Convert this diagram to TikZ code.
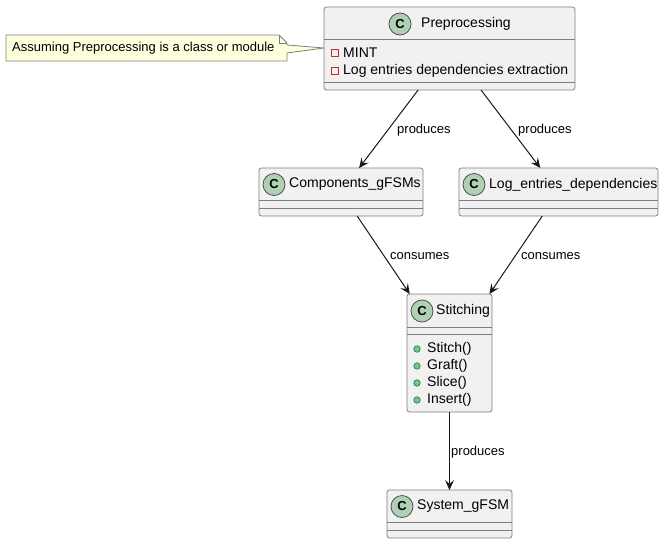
\documentclass[tikz,border=0pt]{standalone}
\usepackage{fontspec}
\setmainfont{Liberation Sans}
\usetikzlibrary{arrows.meta}
\definecolor{boxfill}{HTML}{F1F1F1}
\definecolor{ink}{HTML}{181818}
\definecolor{boxline}{HTML}{7E7E7E}
\definecolor{cline}{HTML}{505050}
\definecolor{cgreen}{HTML}{ADD1B2}
\definecolor{notefill}{HTML}{FEFFDD}
\definecolor{privred}{HTML}{C82930}
\definecolor{pubfill}{HTML}{84BE84}
\definecolor{publine}{HTML}{038048}
\tikzset{
  classbox/.style={draw=boxline, line width=0.8pt, fill=boxfill, rounded corners=2.5pt, inner sep=0pt, outer sep=0pt, anchor=north west},
  divider/.style={draw=boxline, line width=0.8pt},
  cicon/.style={circle, draw=cline, line width=0.8pt, fill=cgreen, minimum size=22pt, inner sep=0pt, font=\fontsize{13}{13}\selectfont\bfseries},
  cname/.style={anchor=west, inner sep=0pt, font=\fontsize{14}{16}\selectfont},
  member/.style={anchor=west, inner sep=0pt, font=\fontsize{14}{16}\selectfont},
  lbl/.style={anchor=west, inner sep=0pt, font=\fontsize{13}{15}\selectfont},
  privicon/.style={draw=privred, line width=0.8pt, rectangle, minimum size=6.5pt, inner sep=0pt},
  pubicon/.style={draw=publine, line width=0.6pt, fill=pubfill, circle, minimum size=6.5pt, inner sep=0pt},
  arr/.style={draw=ink, line width=1pt, -{Stealth[length=10pt,width=9pt,inset=4pt]}},
}
\begin{document}
\begin{tikzpicture}[x=1pt,y=-1pt]
\useasboundingbox (0,0) rectangle (664,544);

% Note
\draw[draw=boxline, line width=0.8pt, fill=notefill]
  (6,35) -- (279,35) -- (287,43) -- (287,45) -- (324,48) -- (287,53) -- (287,61) -- (6,61) -- cycle;
\draw[draw=boxline, line width=0.8pt] (279,35) -- (279,43) -- (287,43);
\node[lbl] (notetext) at (12,48.5) {Assuming Preprocessing is a class or module};

% Preprocessing
\node[classbox, minimum width=251pt, minimum height=83pt] (pre) at (324,7) {};
\draw[divider] (324,39) -- (575,39);
\draw[divider] (324,82) -- (575,82);
\node[cicon] (preC) at (400,24) {C};
\node[cname] (preN) at (421,24) {Preprocessing};
\node[privicon] (preI1) at (335,53) {};
\node[member] (preA1) at (343,53) {MINT};
\node[privicon] (preI2) at (335,71) {};
\node[member] (preA2) at (343,71) {Log entries dependencies extraction};

% Components_gFSMs
\node[classbox, minimum width=164pt, minimum height=48pt] (comp) at (259,168) {};
\draw[divider] (259,200.5) -- (423,200.5);
\draw[divider] (259,208) -- (423,208);
\node[cicon] (compC) at (274,184.5) {C};
\node[cname] (compN) at (289,184.5) {Components\_gFSMs};

% Log_entries_dependencies
\node[classbox, minimum width=199pt, minimum height=48pt] (log) at (459,168) {};
\draw[divider] (459,200.5) -- (658,200.5);
\draw[divider] (459,208) -- (658,208);
\node[cicon] (logC) at (474,184.5) {C};
\node[cname] (logN) at (489,184.5) {Log\_entries\_dependencies};

% Stitching
\node[classbox, minimum width=85pt, minimum height=118pt] (sti) at (407,294) {};
\draw[divider] (407,327) -- (492,327);
\draw[divider] (407,334) -- (492,334);
\node[cicon] (stiC) at (422,311) {C};
\node[cname] (stiN) at (436,311) {Stitching};
\node[pubicon] (stiI1) at (417,349) {};
\node[member] (stiM1) at (427,349) {Stitch()};
\node[pubicon] (stiI2) at (417,366) {};
\node[member] (stiM2) at (427,366) {Graft()};
\node[pubicon] (stiI3) at (417,383) {};
\node[member] (stiM3) at (427,383) {Slice()};
\node[pubicon] (stiI4) at (417,400) {};
\node[member] (stiM4) at (427,400) {Insert()};

% System_gFSM
\node[classbox, minimum width=125pt, minimum height=48pt] (sys) at (387,490) {};
\draw[divider] (387,522) -- (512,522);
\draw[divider] (387,530) -- (512,530);
\node[cicon] (sysC) at (402,506.5) {C};
\node[cname] (sysN) at (417,506.5) {System\_gFSM};

% Connectors
\draw[arr] (pre) -- (comp);
\draw[arr] (pre) -- (log);
\draw[arr] (comp) -- (sti);
\draw[arr] (log) -- (sti);
\draw[arr] (sti) -- (sys);

% Labels
\node[lbl] (l1) at (397,130) {produces};
\node[lbl] (l2) at (518,130) {produces};
\node[lbl] (l3) at (390,256) {consumes};
\node[lbl] (l4) at (521,256) {consumes};
\node[lbl] (l5) at (451,452) {produces};
\end{tikzpicture}
\end{document}
